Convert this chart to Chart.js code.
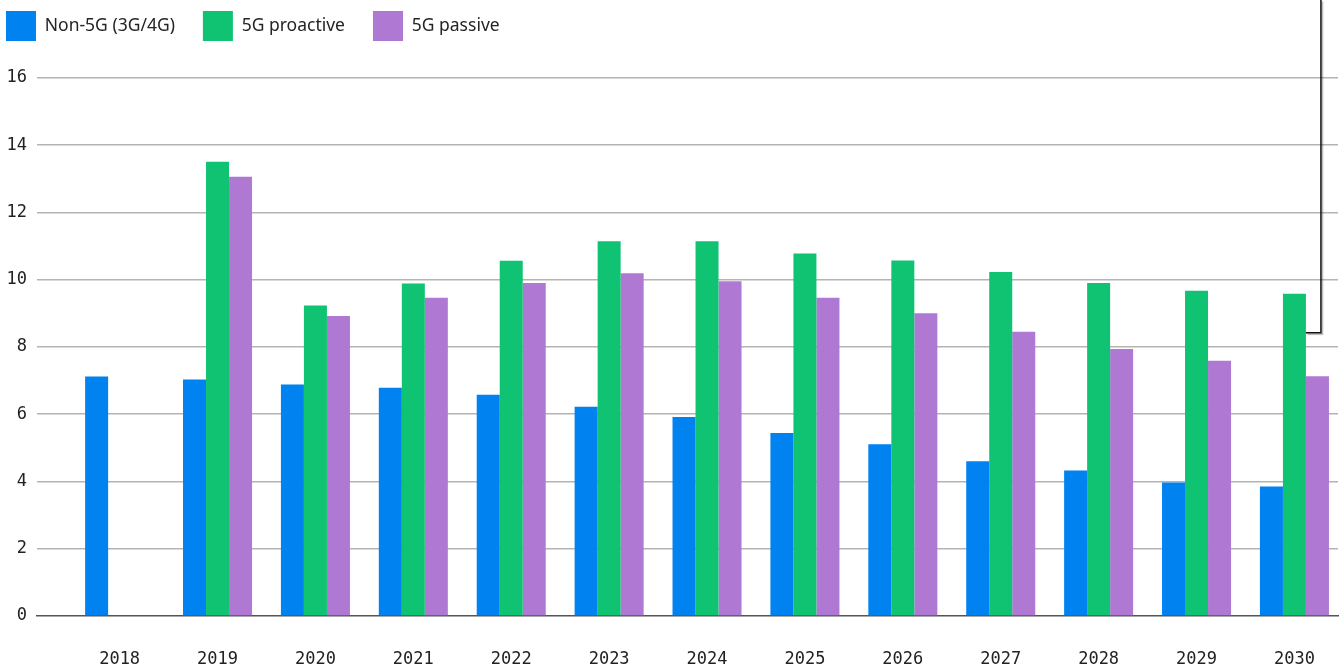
<!DOCTYPE html>
<html>
<head>
<meta charset="utf-8">
<script src="https://cdn.jsdelivr.net/npm/chart.js@4"></script>
<style>
  html, body { margin: 0; padding: 0; background: #ffffff; }
  #wrap { position: relative; width: 1340px; height: 666px; }
</style>
</head>
<body>
<div id="wrap"><canvas id="c"></canvas></div>
<script>
const years = [2018, 2019, 2020, 2021, 2022, 2023, 2024, 2025, 2026, 2027, 2028, 2029, 2030];
const non5G = [7.12, 7.03, 6.88, 6.79, 6.58, 6.22, 5.92, 5.44, 5.11, 4.60, 4.33, 3.97, 3.85];
const proactive5G = [null, 13.51, 9.23, 9.89, 10.56, 11.14, 11.14, 10.78, 10.57, 10.23, 9.90, 9.67, 9.58];
const passive5G = [null, 13.06, 8.92, 9.46, 9.90, 10.19, 9.95, 9.46, 9.00, 8.45, 7.94, 7.59, 7.13];
const seriesNames = ['Non-5G (3G/4G)', '5G proactive', '5G passive'];
const calloutValue = 8.42;

const tickFont = { family: "'DejaVu Sans Mono', monospace", size: 17 };

const calloutPlugin = {
  id: 'callout',
  afterDatasetsDraw(chart) {
    const meta = chart.getDatasetMeta(1);
    const idx = years.indexOf(2030);
    const el = meta.data[idx];
    if (!el) return;
    const ctx = chart.ctx;
    const xStart = el.x + el.width / 2;
    const xv = xStart + 15;
    const y = chart.scales.y.getPixelForValue(calloutValue);
    ctx.save();
    ctx.strokeStyle = '#111111';
    ctx.lineWidth = 1.5;
    ctx.shadowColor = 'rgba(0,0,0,0.3)';
    ctx.shadowOffsetX = 1.5;
    ctx.shadowOffsetY = 1.5;
    ctx.shadowBlur = 1;
    ctx.beginPath();
    ctx.moveTo(xStart, y);
    ctx.lineTo(xv, y);
    ctx.lineTo(xv, 0);
    ctx.stroke();
    ctx.restore();
  }
};

new Chart(document.getElementById('c'), {
  type: 'bar',
  data: {
    labels: years,
    datasets: [
      { label: seriesNames[0], data: non5G, backgroundColor: '#0082F0' },
      { label: seriesNames[1], data: proactive5G, backgroundColor: '#10C373' },
      { label: seriesNames[2], data: passive5G, backgroundColor: '#AF78D2' }
    ]
  },
  options: {
    responsive: true,
    maintainAspectRatio: false,
    animation: false,
    layout: { padding: { left: -22, top: -17, right: 2, bottom: 0 } },
    datasets: { bar: { categoryPercentage: 0.705, barPercentage: 1.0 } },
    plugins: {
      legend: {
        position: 'top',
        align: 'start',
        labels: {
          boxWidth: 30,
          boxHeight: 30,
          padding: 28,
          color: '#242424',
          font: { family: "'Noto Sans', sans-serif", size: 17.5 }
        }
      },
      tooltip: { enabled: false }
    },
    scales: {
      x: {
        type: 'linear',
        min: 2017.156,
        max: 2030.445,
        offset: false,
        grid: { display: false, drawTicks: true, tickLength: 24 },
        border: { display: true, color: '#555555', width: 1.5 },
        ticks: {
          stepSize: 1,
          includeBounds: false,
          autoSkip: false,
          maxRotation: 0,
          padding: 9,
          color: '#222222',
          font: tickFont,
          callback: (v) => String(v)
        },
        afterFit: (s) => { s.height = 50; }
      },
      y: {
        min: 0,
        max: 16.8,
        grid: {
          drawTicks: false,
          lineWidth: 1.5,
          color: (c) => (c.tick && c.tick.value === 0) ? 'rgba(0,0,0,0)' : '#b4b4b4'
        },
        border: { display: false },
        ticks: {
          stepSize: 2,
          includeBounds: false,
          padding: 10,
          color: '#222222',
          font: tickFont
        },
        afterFit: (s) => { s.width = 59; }
      }
    }
  },
  plugins: [calloutPlugin]
});
</script>
</body>
</html>
